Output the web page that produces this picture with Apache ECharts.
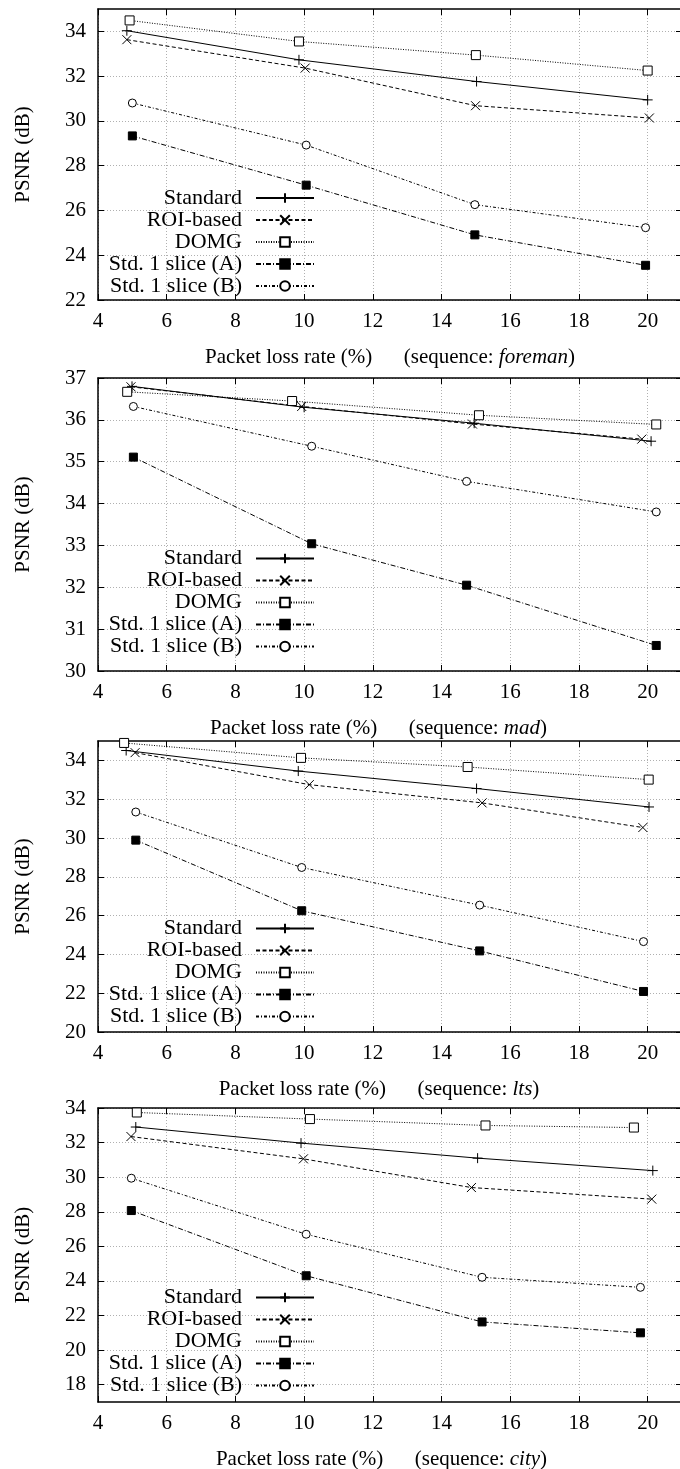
<!DOCTYPE html>
<html><head><meta charset="utf-8">
<script src="https://cdn.jsdelivr.net/npm/echarts@6/dist/echarts.min.js"></script>
<style>html,body{margin:0;padding:0;background:#fff}#c{width:680px;height:1469px}</style>
</head><body><div id="c"></div>
<script>
// ---------- data ----------
const seriesNames = ['Standard', 'ROI-based', 'DOMG', 'Std. 1 slice (A)', 'Std. 1 slice (B)'];
const sequences = ['foreman', 'mad', 'lts', 'city'];
const xTicks = [4, 6, 8, 10, 12, 14, 16, 18, 20];
const yTicksForeman = [22, 24, 26, 28, 30, 32, 34];
const yTicksMad = [30, 31, 32, 33, 34, 35, 36, 37];
const yTicksLts = [20, 22, 24, 26, 28, 30, 32, 34];
const yTicksCity = [18, 20, 22, 24, 26, 28, 30, 32, 34];

const foremanStandard = [[4.84, 34.03], [9.85, 32.73], [15.02, 31.76], [20.0, 30.94]];
const foremanRoi      = [[4.84, 33.63], [10.03, 32.36], [14.99, 30.68], [20.05, 30.13]];
const foremanDomg     = [[4.92, 34.49], [9.85, 33.55], [15.0, 32.94], [20.0, 32.25]];
const foremanSliceA   = [[5.0, 29.33], [10.06, 27.13], [14.97, 24.91], [19.94, 23.55]];
const foremanSliceB   = [[5.0, 30.80], [10.06, 28.92], [14.97, 26.26], [19.94, 25.23]];

const madStandard = [[4.99, 36.80], [10.0, 36.30], [14.95, 35.92], [20.1, 35.49]];
const madRoi      = [[4.96, 36.79], [9.93, 36.32], [14.9, 35.90], [19.83, 35.54]];
const madDomg     = [[4.85, 36.67], [9.65, 36.45], [15.09, 36.11], [20.25, 35.89]];
const madSliceA   = [[5.03, 35.11], [10.22, 33.04], [14.73, 32.05], [20.25, 30.61]];
const madSliceB   = [[5.03, 36.32], [10.22, 35.37], [14.73, 34.53], [20.25, 33.80]];

const ltsStandard = [[4.82, 34.51], [9.83, 33.45], [15.02, 32.55], [20.04, 31.60]];
const ltsRoi      = [[5.08, 34.40], [10.15, 32.75], [15.18, 31.81], [19.86, 30.54]];
const ltsDomg     = [[4.76, 34.90], [9.91, 34.13], [14.76, 33.66], [20.03, 33.01]];
const ltsSliceA   = [[5.10, 29.89], [9.93, 26.25], [15.11, 24.18], [19.88, 22.09]];
const ltsSliceB   = [[5.10, 31.34], [9.93, 28.48], [15.11, 26.54], [19.88, 24.66]];

const cityStandard = [[5.10, 32.90], [9.91, 31.97], [15.05, 31.10], [20.15, 30.38]];
const cityRoi      = [[4.96, 32.35], [9.98, 31.06], [14.87, 29.40], [20.12, 28.73]];
const cityDomg     = [[5.13, 33.74], [10.17, 33.36], [15.28, 32.99], [19.60, 32.87]];
const citySliceA   = [[4.97, 28.07], [10.06, 24.30], [15.18, 21.63], [19.79, 21.00]];
const citySliceB   = [[4.97, 29.94], [10.06, 26.70], [15.18, 24.21], [19.79, 23.63]];

const panelData = [
  [foremanStandard, foremanRoi, foremanDomg, foremanSliceA, foremanSliceB],
  [madStandard, madRoi, madDomg, madSliceA, madSliceB],
  [ltsStandard, ltsRoi, ltsDomg, ltsSliceA, ltsSliceB],
  [cityStandard, cityRoi, cityDomg, citySliceA, citySliceB]
];
const panelYTicks = [yTicksForeman, yTicksMad, yTicksLts, yTicksCity];
const panelYRange = [[22, 35], [30, 37], [20, 35], [17, 34]];
const xRange = [4, 21];

// ---------- layout / style ----------
const FONT = 'Liberation Serif';
const panelLayout = [
  { top: 9, height: 291, legendTop: 187, namePad: 0 },
  { top: 378, height: 293, legendTop: 547.5, namePad: 23 },
  { top: 741, height: 291, legendTop: 917.5, namePad: 22 },
  { top: 1108, height: 294, legendTop: 1286.5, namePad: 17 }
];
const markStyles = [
  { symbol: 'path://M0,5L10,5M5,0L5,10', size: 10, dash: 'solid', fill: '#000' },
  { symbol: 'path://M0,0L10,10M10,0L0,10', size: 9, dash: [4, 2.5], fill: '#000' },
  { symbol: 'rect', size: 9, dash: [1, 1.5], fill: '#fff' },
  { symbol: 'rect', size: 8, dash: [5, 2, 1, 2], fill: '#000' },
  { symbol: 'circle', size: 8, dash: [3, 2, 1, 2], fill: '#fff' }
];

const grids = [], xAxes = [], yAxes = [], series = [], legends = [];
panelLayout.forEach((p, gi) => {
  grids.push({ left: 98, width: 584, top: p.top, height: p.height, outerBoundsMode: 'none', containLabel: false });
  const axisLine = { show: true, onZero: false, lineStyle: { color: '#000', width: 1.5 } };
  const labelStyle = { fontFamily: FONT, fontSize: 21, color: '#000' };
  const split = { lineStyle: { color: '#b0b0b0', width: 1, type: [1, 2] } };
  [false, true].forEach(isMirror => {
    xAxes.push({
      type: 'value', gridIndex: gi, min: xRange[0], max: xRange[1],
      position: isMirror ? 'top' : 'bottom',
      name: isMirror ? '' : 'Packet loss rate (%)      (sequence: {it|' + sequences[gi] + '})',
      nameLocation: 'middle', nameGap: 47, nameMoveOverlap: false,
      nameTextStyle: Object.assign({}, labelStyle, { padding: [0, p.namePad, 0, 0], rich: { it: Object.assign({}, labelStyle, { fontStyle: 'italic' }) } }),
      axisLine: axisLine,
      axisTick: { show: true, inside: true, length: 6, customValues: xTicks, lineStyle: { color: '#000', width: 1 } },
      axisLabel: Object.assign({ show: !isMirror, customValues: xTicks, margin: 11 }, labelStyle),
      splitLine: Object.assign({ show: !isMirror }, split)
    });
    yAxes.push({
      type: 'value', gridIndex: gi, min: panelYRange[gi][0], max: panelYRange[gi][1],
      position: isMirror ? 'right' : 'left',
      name: isMirror ? '' : 'PSNR (dB)',
      nameLocation: 'middle', nameGap: 64, nameMoveOverlap: false,
      nameTextStyle: labelStyle,
      axisLine: axisLine,
      axisTick: { show: true, inside: true, length: 6, customValues: panelYTicks[gi], lineStyle: { color: '#000', width: 1 } },
      axisLabel: Object.assign({ show: !isMirror, customValues: panelYTicks[gi], margin: 12 }, labelStyle),
      splitLine: Object.assign({ show: !isMirror }, split)
    });
  });
  panelData[gi].forEach((d, si) => {
    const m = markStyles[si];
    series.push({
      type: 'line', name: seriesNames[si], xAxisIndex: 2 * gi, yAxisIndex: 2 * gi, data: d,
      symbol: m.symbol, symbolSize: m.size, showSymbol: true, silent: true,
      lineStyle: { color: '#000', width: 1, type: m.dash },
      itemStyle: { color: m.fill, borderColor: '#000', borderWidth: 1 },
      emphasis: { disabled: true }, z: 3
    });
  });
  legends.push({
    orient: 'vertical', right: 365, top: p.legendTop, align: 'right',
    itemWidth: 58, itemHeight: 12, itemGap: 0, padding: 0, selectedMode: false,
    data: seriesNames,
    textStyle: { fontFamily: FONT, fontSize: 22, color: '#000', lineHeight: 21.6, padding: [0, 9, 0, 0] }
  });
});

const chart = echarts.init(document.getElementById('c'), null, { renderer: 'canvas' });
chart.setOption({
  backgroundColor: '#fff', animation: false,
  grid: grids, xAxis: xAxes, yAxis: yAxes, series: series, legend: legends
});
</script></body></html>
